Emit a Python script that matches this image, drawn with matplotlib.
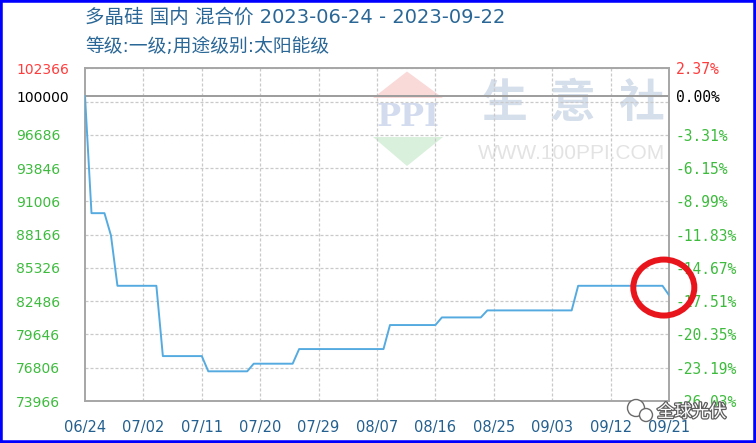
import matplotlib
matplotlib.use('Agg')
import matplotlib.pyplot as plt
import matplotlib.patches as mpatches
import matplotlib.transforms as mtransforms
import matplotlib.patheffects as pe

# ---- data ----
title = '多晶硅 国内 混合价 2023-06-24 - 2023-09-22'
subtitle = '等级:一级;用途级别:太阳能级'

x_ticks = [0, 9, 18, 27, 36, 45, 54, 63, 72, 81, 90]
x_labels = ['06/24', '07/02', '07/11', '07/20', '07/29', '08/07',
            '08/16', '08/25', '09/03', '09/12', '09/21']

# one value per data point (index based x axis)
prices = [100000,
          90000, 90000, 90000,
          88100,
          83800, 83800, 83800, 83800, 83800, 83800, 83800,
          77800, 77800, 77800, 77800, 77800, 77800, 77800,
          76500, 76500, 76500, 76500, 76500, 76500, 76500,
          77150, 77150, 77150, 77150, 77150, 77150, 77150,
          78400, 78400, 78400, 78400, 78400, 78400, 78400,
          78400, 78400, 78400, 78400, 78400, 78400, 78400,
          80450, 80450, 80450, 80450, 80450, 80450, 80450, 80450,
          81100, 81100, 81100, 81100, 81100, 81100, 81100,
          81700, 81700, 81700, 81700, 81700, 81700, 81700,
          81700, 81700, 81700, 81700, 81700, 81700, 81700,
          83800, 83800, 83800, 83800, 83800, 83800, 83800,
          83800, 83800, 83800, 83800, 83800, 83800, 83800,
          83000]

base_price = 100000
left_ticks = [102366, 100000, 96686, 93846, 91006, 88166,
              85326, 82486, 79646, 76806, 73966]
left_labels = ['102366', '100000', '96686', '93846', '91006', '88166',
               '85326', '82486', '79646', '76806', '73966']
right_labels = ['2.37%', '0.00%', '-3.31%', '-6.15%', '-8.99%', '-11.83%',
                '-14.67%', '-17.51%', '-20.35%', '-23.19%', '-26.03%']
grid_values = [102366, 99526, 96686, 93846, 91006, 88166,
               85326, 82486, 79646, 76806, 73966]

RED = '#ff3c3c'
GREEN = '#3dbb3d'
tick_colors = [RED, '#000000'] + [GREEN] * 9

W, H = 756, 443


def fx(px):
    return px / W


def fy(py):
    return 1 - py / H


fig = plt.figure(figsize=(W / 100, H / 100), dpi=100)
fig.patch.set_facecolor('white')
ax = fig.add_axes([fx(85), fy(401), fx(669) - fx(85), fy(68.3) - fy(401)])

ax.plot(range(len(prices)), prices, color='#55abe0', lw=1.4, zorder=5)
ax.set_xlim(x_ticks[0], x_ticks[-1])
ax.set_ylim(left_ticks[-1], left_ticks[0])

grid_style = dict(color='#c9c9c9', lw=0.9, ls=(0, (2.4, 1.6)), zorder=1)
for v in grid_values:
    ax.axhline(v, **grid_style)
for t in x_ticks[1:-1]:
    ax.axvline(t, **grid_style)
ax.axhline(base_price, color='#9c9c9c', lw=1.4, zorder=2)

for s in ax.spines.values():
    s.set_color('#a6a6a6')
    s.set_linewidth(1.4)

# left axis: values
ax.set_yticks(left_ticks, left_labels)
ax.tick_params(axis='y', length=0, pad=49.7, labelsize=10)
for lbl, c in zip(ax.get_yticklabels(), tick_colors):
    lbl.set_color(c)
    lbl.set_horizontalalignment('left')

ax.set_xticks(x_ticks, x_labels)
ax.tick_params(axis='x', length=0, pad=14, labelsize=10.5, labelcolor='#23608f')

# right axis: change against base price
ax2 = ax.twinx()
ax2.set_ylim(ax.get_ylim())
ax2.set_yticks(left_ticks, right_labels)
ax2.tick_params(axis='y', length=0, pad=5, labelsize=10.5)
for lbl, c in zip(ax2.get_yticklabels(), tick_colors):
    lbl.set_color(c)
    lbl.set_family('DejaVu Sans Mono')
for s in ax2.spines.values():
    s.set_visible(False)

# titles
cjk = ['DejaVu Sans', 'Noto Sans CJK SC']
fig.text(fx(85), fy(17), title, family=cjk, fontsize=14, color='#2a6796',
         ha='left', va='center')
fig.text(fx(85), fy(46.5), subtitle, family=cjk, fontsize=13.5, color='#2a6796',
         ha='left', va='center')

# 100ppi watermark
wm = dict(transform=fig.transFigure, zorder=0.5)
ax.add_patch(mpatches.Polygon([(fx(373), fy(98)), (fx(407), fy(71.5)), (fx(443), fy(98))],
                              closed=True, fc='#fad9d9', ec='none', **wm))
ax.add_patch(mpatches.Polygon([(fx(373), fy(137)), (fx(407), fy(166)), (fx(443), fy(137))],
                              closed=True, fc='#d9f0dc', ec='none', **wm))
ax.text(fx(408), fy(118), 'PPI', family='DejaVu Serif', weight='bold', fontsize=23,
        color='#d3dcef', ha='center', va='center', **wm)
for ch, cx in zip('生意社', [505, 572, 641]):
    ax.text(fx(cx), fy(104), ch, family='Noto Sans CJK SC', weight='bold', fontsize=33,
            color='#d5deeb', ha='center', va='center', **wm)
ax.text(fx(572), fy(153.5), 'WWW.100PPI.COM', family='Liberation Sans', fontsize=15,
        color='#e3e3e3', ha='center', va='center', **wm)

# red circle around the last move
n = len(prices)
circle_tr = fig.dpi_scale_trans + mtransforms.ScaledTranslation(
    n - 1.8, (prices[-1] + prices[-2]) / 2 + 250, ax.transData)
fig.add_artist(mpatches.Ellipse((0, 0), 0.61, 0.56, transform=circle_tr, fill=False,
                                ec='#e8161c', lw=4.3, zorder=20))

# wechat mark
for (cx, cy, r) in [(636, 408, 8.5), (646, 415, 6.5)]:
    fig.add_artist(mpatches.Ellipse((fx(cx), fy(cy)), 2 * r / W, 2 * r / H,
                                    transform=fig.transFigure, fc='white',
                                    ec='#6a6a6a', lw=1.0, zorder=21))
fig.text(fx(657), fy(412), '全球光伏', family='Noto Sans CJK SC', fontsize=12.5,
         color='white', ha='left', va='center', zorder=22,
         path_effects=[pe.withStroke(linewidth=1.8, foreground='#5e5e5e')])

# blue frame around the picture
fig.add_artist(mpatches.Rectangle((0, 0), 1, 1, transform=fig.transFigure, fill=False,
                                  ec='#0000ff', lw=4, zorder=30))

fig.savefig('out.png', dpi=100)
